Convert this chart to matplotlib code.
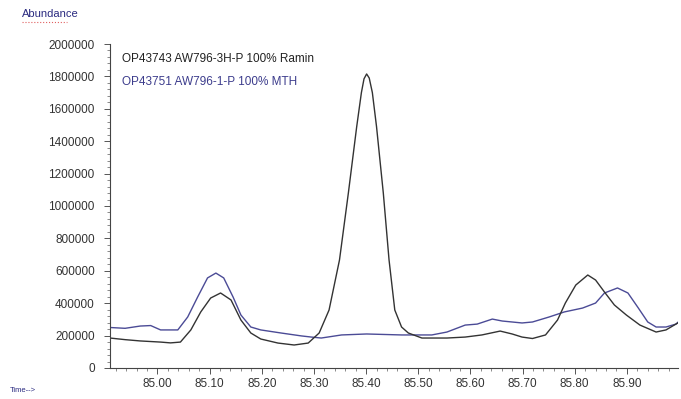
import numpy as np
import matplotlib.pyplot as plt
from matplotlib.ticker import MultipleLocator

plt.rcParams['font.family'] = ['Liberation Sans', 'DejaVu Sans']

# Ramin trace (time in min, abundance)
ramin_t = [84.909, 84.938, 84.967, 85.006, 85.025, 85.044, 85.064, 85.083, 85.102,
           85.121, 85.141, 85.160, 85.179, 85.198, 85.231, 85.262, 85.289, 85.310,
           85.329, 85.349, 85.366, 85.382, 85.391, 85.396, 85.401, 85.406, 85.412,
           85.420, 85.433, 85.444, 85.455, 85.468, 85.481, 85.507, 85.555, 85.590,
           85.622, 85.657, 85.680, 85.699, 85.719, 85.744, 85.767, 85.782, 85.802,
           85.825, 85.840, 85.857, 85.876, 85.899, 85.925, 85.956, 85.975, 86.004]
ramin_y = [185e3, 175e3, 167e3, 160e3, 155e3, 160e3, 235e3, 346e3, 432e3,
           463e3, 420e3, 296e3, 216e3, 179e3, 154e3, 142e3, 154e3, 216e3,
           358e3, 667e3, 1080e3, 1490e3, 1700e3, 1785e3, 1815e3, 1790e3, 1700e3,
           1490e3, 1080e3, 667e3, 358e3, 253e3, 216e3, 185e3, 185e3, 191e3,
           204e3, 228e3, 210e3, 191e3, 182e3, 204e3, 296e3, 401e3, 512e3,
           574e3, 543e3, 469e3, 389e3, 327e3, 265e3, 222e3, 235e3, 290e3]

# MTH trace
mth_t = [84.909, 84.938, 84.967, 84.987, 85.006, 85.039, 85.058, 85.077, 85.096,
         85.112, 85.127, 85.145, 85.160, 85.179, 85.198, 85.237, 85.276, 85.295,
         85.314, 85.353, 85.401, 85.468, 85.526, 85.555, 85.590, 85.613, 85.642,
         85.661, 85.699, 85.719, 85.751, 85.780, 85.815, 85.840, 85.857, 85.882,
         85.902, 85.922, 85.940, 85.956, 85.975, 85.994, 86.004]
mth_y = [250e3, 245e3, 259e3, 262e3, 235e3, 235e3, 315e3, 438e3, 556e3,
         586e3, 556e3, 438e3, 327e3, 253e3, 235e3, 216e3, 198e3, 191e3,
         185e3, 204e3, 210e3, 204e3, 204e3, 222e3, 265e3, 271e3, 302e3,
         290e3, 278e3, 284e3, 315e3, 346e3, 370e3, 401e3, 463e3, 494e3,
         463e3, 370e3, 284e3, 253e3, 253e3, 271e3, 300e3]

ramin_label = 'OP43743 AW796-3H-P 100% Ramin'
mth_label = 'OP43751 AW796-1-P 100% MTH'

fig = plt.figure(figsize=(6.81, 3.99), dpi=100)
ax = fig.add_axes([110/681, 1 - 368/399, (678 - 110)/681, (368 - 44)/399])

ax.plot(mth_t, mth_y, color='#4b4b96', lw=1.0, solid_joinstyle='round')
ax.plot(ramin_t, ramin_y, color='#333333', lw=1.0, solid_joinstyle='round')

ax.set_xlim(84.909, 85.998)
ax.set_ylim(0, 2000000)
ax.xaxis.set_major_locator(MultipleLocator(0.1))
ax.xaxis.set_minor_locator(MultipleLocator(0.02))
ax.yaxis.set_major_locator(MultipleLocator(200000))
ax.yaxis.set_minor_locator(MultipleLocator(40000))
ax.xaxis.set_major_formatter(plt.FuncFormatter(lambda v, p: f'{v:.2f}'))
ax.yaxis.set_major_formatter(plt.FuncFormatter(lambda v, p: f'{v:.0f}'))

for s in ['top', 'right']:
    ax.spines[s].set_visible(False)
for s in ['left', 'bottom']:
    ax.spines[s].set_color('#444444')
    ax.spines[s].set_linewidth(0.8)

ax.tick_params(axis='both', which='major', length=4, width=0.7, color='#555555',
               labelsize=8.5, labelcolor='#333333')
ax.tick_params(axis='both', which='minor', length=2, width=0.6, color='#777777')
ax.tick_params(axis='x', pad=3)
ax.tick_params(axis='y', pad=7)

ax.text(122/681, 1 - 59/399, ramin_label, transform=fig.transFigure,
        fontsize=8.5, color='#222222', va='center')
ax.text(122/681, 1 - 82/399, mth_label, transform=fig.transFigure,
        fontsize=8.5, color='#3c3c8c', va='center')

fig.text(22/681, 1 - 14/399, 'Abundance', fontsize=8, color='#2a2a80', va='center')
fig.add_artist(plt.Line2D([22/681, 67/681], [1 - 22/399, 1 - 22/399],
                          color='#e06060', lw=0.8, ls=':'))
fig.text(10/681, 1 - 390/399, 'Time-->', fontsize=5.5, color='#2a2a80', va='center')

fig.savefig('out.png', dpi=100)
